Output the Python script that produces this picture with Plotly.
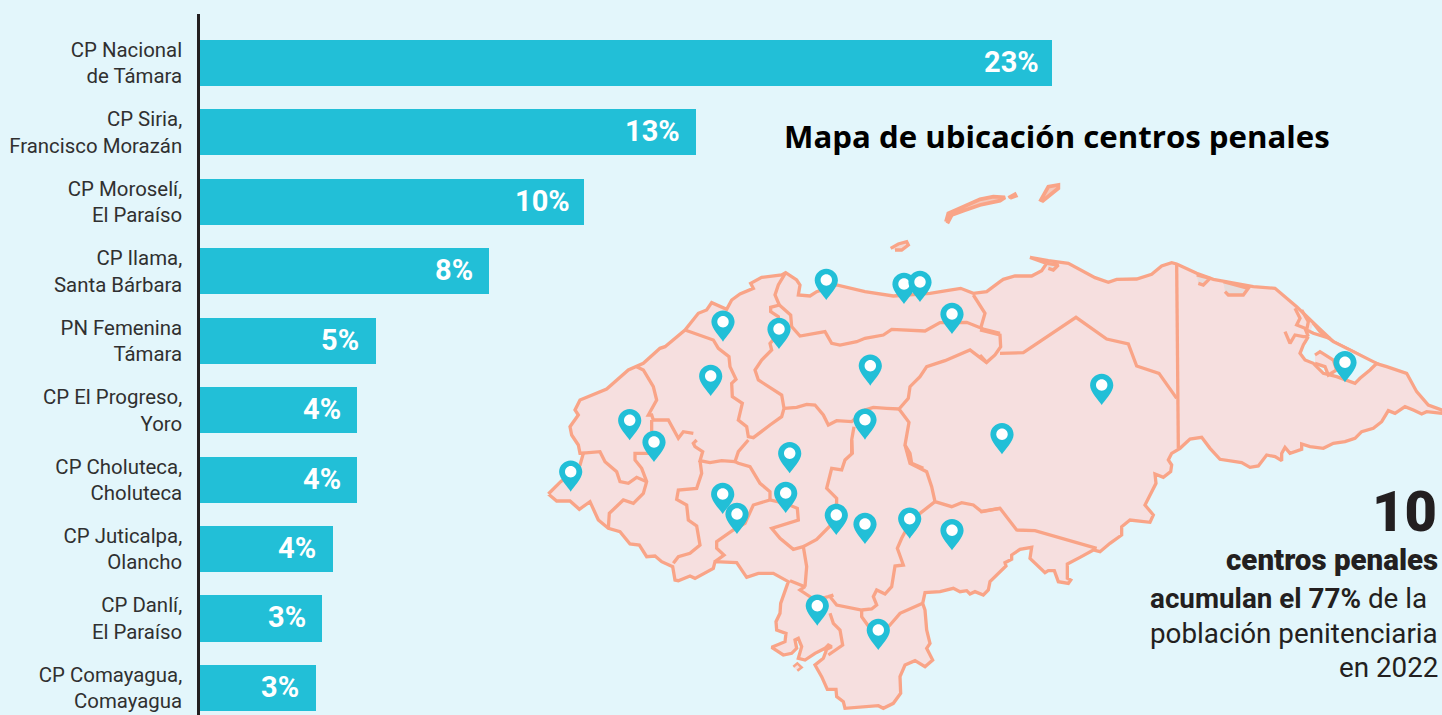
import plotly.graph_objects as go

BG = "#e3f6fb"; BAR = "#22bfd7"; LAND = "#f6dfdf"; EDGE = "#f9a487"; INK = "#231f20"

centers = ["CP Nacional<br>de Támara", "CP Siria,<br>Francisco Morazán", "CP Moroselí,<br>El Paraíso",
           "CP Ilama,<br>Santa Bárbara", "PN Femenina<br>Támara", "CP El Progreso,<br>Yoro",
           "CP Choluteca,<br>Choluteca", "CP Juticalpa,<br>Olancho", "CP Danlí,<br>El Paraíso",
           "CP Comayagua,<br>Comayagua"]
shares = [23.0, 13.4, 10.37, 7.8, 4.75, 4.24, 4.24, 3.6, 3.3, 3.13]
share_labels = ["23%", "13%", "10%", "8%", "5%", "4%", "4%", "4%", "3%", "3%"]
label_inset = [11, 14, 12, 14, 15, 14, 14, 15, 14, 15]

# Map, each list in its own crop's reading frame
C1 = (540, 170); C2 = (540, 440); C3 = (980, 240); C6 = (960, 500); C7 = (930, 170); C8 = (1270, 295)

coast_a = [(25,162),(62,125),(120,75),(130,40)]  # C2
coast_b = [(120,850),(115,825),(95,795),(90,770),(115,735),(105,720),(120,690),(200,657),(265,600),(310,580),(360,535),(375,530),(435,480),(475,430),(500,420),(515,398),(560,418),(575,390),(600,372),(640,355),(632,340),(665,322),(725,315),(737,308),(770,330),(780,345),(775,375),(810,378),(830,365),(890,345),(975,365),(1060,378),(1100,375),(1170,370),(1220,362),(1262,355),(1300,370),(1340,365),(1380,335)]  # C1
coast_c = [(70,118),(105,108),(155,108),(185,92),(200,70),(150,52),(205,62),(265,70),(300,90),(345,113),(385,127),(410,118),(470,117),(515,103),(545,78),(575,68),(590,72),(650,100),(700,118),(820,140),(885,145),(950,200),(1010,258),(1060,305),(1120,335),(1180,368),(1220,380),(1280,400),(1310,455),(1345,495),(1386,510),(1400,510),(1400,520),(1386,520),(1340,515),(1325,522),(1300,510),(1275,500),(1245,520),(1225,512),(1205,545),(1180,565),(1145,575),(1125,595),(1095,605),(1060,610),(1030,625),(990,620),(965,612),(965,628),(930,640),(915,622),(905,640),(905,662),(885,650),(860,645),(835,678),(810,682),(785,668),(720,658),(690,625),(665,592),(630,597),(600,625),(575,640),(565,660),(575,675),(572,695),(550,712),(525,702),(528,730),(495,795),(520,825),(510,847),(450,840),(425,860),(425,885),(390,910),(360,935)]  # C3
coast_d = [(400,150),(360,172),(335,187),(322,192),(322,235),(332,240),(325,250),(295,245),(283,212),(265,212),(255,218),(210,175),(215,142),(180,148),(155,165),(155,178),(135,188),(138,198),(90,245),(85,270),(70,285),(45,275),(30,282),(20,272),(0,275)]  # C6
coast_e = [(1240,445),(1200,455),(1155,458),(1148,490),(1155,510),(1160,570),(1170,610),(1160,625),(1178,660),(1155,680),(1125,662),(1095,675),(1080,710),(1082,760),(1060,790),(1030,805),(1015,797),(915,805),(910,785),(890,770),(888,748),(862,748),(845,710),(825,675),(850,655),(860,628),(875,620),(865,615),(855,625),(825,640),(795,660),(775,655),(785,620),(775,595),(765,600),(770,625),(755,640),(730,645),(695,622),(735,605),(738,580),(710,570),(708,545),(720,520),(722,490),(745,425),(715,408),(700,400),(655,400),(620,412),(590,368),(525,365),(520,385),(465,415),(450,408),(415,422),(405,420),(398,380),(365,365),(345,348),(320,350),(298,315),(270,312),(240,275),(205,265),(175,240),(150,185),(118,208),(90,183),(50,183),(25,162)]  # C2

borders = [
 (C1, [(737,308),(715,345),(705,375),(718,405),(692,412),(692,425),(715,440),(717,490),(690,520),(695,540),(665,570),(645,600),(655,630),(685,650),(725,675),(732,715),(725,740),(690,765),(640,803),(625,800),(620,770),(595,750),(607,700),(577,680),(575,640),(588,628),(570,590),(567,560),(535,535),(520,510),(435,480)]),
 (C1, [(718,405),(752,435),(755,470),(780,498),(825,490),(855,485),(875,520),(900,525),(950,515),(975,505),(1030,495),(1055,478),(1155,483),(1200,458),(1280,457),(1330,477),(1380,490)]),
 (C1, [(1300,375),(1335,430),(1322,475)]),
 (C3, [(0,270),(60,285),(62,320),(45,345),(20,367),(0,345)]),
 (C1, [(1340,578),(1290,540),(1215,572),(1160,590),(1140,620),(1110,650),(1105,685),(1077,717),(1040,715),(1000,712),(975,720),(935,755),(890,752),(865,765),(850,735),(825,705),(800,703),(770,712),(732,715)]),
 (C1, [(1077,717),(1107,757),(1095,825),(1110,850),(1115,880),(1150,895)]),
 (C2, [(1095,15),(1110,70),(1160,95),(1175,140),(1185,185),(1235,200),(1265,188),(1300,195),(1325,215),(1380,205)]),
 (C3, [(0,815),(60,805),(110,870),(165,872),(350,925)]),
 (C3, [(60,340),(130,338),(288,232),(380,297),(445,312),(470,378),(537,400),(590,475)]),
 (C3, [(590,72),(595,625)]),
 (C2, [(1185,185),(1140,220),(1109,250),(1085,295),(1072,325),(1090,375),(1065,378),(1055,440),(1035,462),(1010,450),(1000,470),(1010,495),(995,507),(965,510),(890,495),(870,470),(880,465),(865,470),(825,480),(780,450),(795,440),(750,422)]),
 (C2, [(795,440),(800,380),(790,320),(760,328),(720,295),(695,265),(775,240),(772,205),(735,190),(690,180),(640,195),(615,250),(580,270),(530,305),(530,325),(552,345),(525,365)]),
 (C2, [(965,510),(965,530),(990,565),(1015,590),(1050,555),(1080,520),(1148,490)]),
 (C2, [(870,520),(880,550),(900,570),(908,615),(865,645)]),
 (C2, [(790,320),(830,298),(870,258),(889,230),(890,175),(860,145),(875,85),(905,90),(915,60),(937,40),(935,0)]),
 (C1, [(935,850),(935,810),(942,770)]),
 (C2, [(690,180),(690,155),(660,130),(630,80),(595,70),(585,65),(595,35),(625,0)]),
 (C2, [(585,65),(545,62),(510,68),(480,62),(488,35),(465,20),(460,10),(470,0)]),
 (C1, [(460,790),(430,785),(415,805),(385,750),(340,750),(335,735),(325,735),(350,690),(340,650),(310,600),(290,590)]),
 (C2, [(480,62),(485,100),(470,145),(415,150),(410,178),(440,195),(445,240),(470,258),(480,315),(450,340),(415,350),(400,370)]),
 (C2, [(340,40),(285,40),(285,60),(305,85),(320,125),(310,160),(280,190),(250,180),(208,220),(205,265)]),
 (C2, [(120,40),(180,35),(195,65),(230,95),(240,125),(265,130),(290,112),(320,125)]),
 (C1, [(335,750),(335,785)]),
]

lagoon = [(115,125),(100,150),(90,175),(105,195),(130,205),(160,235),(200,245),(240,258),(255,265),(270,250),(300,225),(320,205),(290,190),(250,170),(190,140),(150,110),(130,85)]  # C8
lagoon_isle = [(135,180),(150,170),(190,195),(200,225),(175,240),(165,215),(135,205)]  # C8
lagoon_channels = [[(75,40),(90,70),(80,90),(105,100),(115,125)],
                   [(45,110),(60,145),(75,120),(100,125),(115,125)],
                   [(95,45),(115,80),(110,105),(130,115),(180,130)]]  # C8
ponds = [[(200,70),(235,75),(220,90),(205,85)], [(650,105),(690,115),(670,135),(655,130)], [(730,125),(805,145),(790,165),(745,165),(735,155)]]  # C3
isle_roatan = [(48,155),(55,130),(100,110),(150,88),(190,80),(225,82),(210,92),(150,105),(100,122),(65,135),(52,160)]  # C7
isle_guanaja = [(330,95),(355,50),(385,45),(385,55),(360,75),(335,95)]  # C7
isle_small = [(235,83),(255,72),(258,78),(240,85)]  # C7
isle_utila = [(1052,235),(1075,222),(1100,215),(1105,225),(1085,240),(1065,240)]  # C1
isle_gulf = [(760,680),(772,670),(785,682),(772,692)]  # C2

pin_x = [723, 779, 826.3, 904, 920, 952, 870.3, 710.7, 865, 629.7, 654, 789.7, 570.7, 722.7, 737, 785.7, 836.3, 865, 909.7, 952, 817.3, 878.3, 1101.7, 1002, 1345]
pin_y = [341.7, 349, 300, 304, 302, 334, 385.7, 396, 439.7, 440.3, 462, 473.3, 491.7, 514, 534, 513, 535, 544, 538.7, 550.3, 625.7, 650, 405, 454.3, 382.3]


def frame(origin, pts):
    return [origin[0] + p[0] / 3 for p in pts], [origin[1] + p[1] / 3 for p in pts]


def join(*parts):
    xs, ys = [], []
    for o, p in parts:
        a, b = frame(o, p)
        xs += a; ys += b
    return xs, ys


fig = go.Figure()
fig.add_bar(x=shares, y=centers, orientation="h", width=0.663, marker=dict(color=BAR, line_width=0),
            xaxis="x", yaxis="y", hoverinfo="skip", showlegend=False)


def poly(xs, ys, fill=LAND, width=3.3, closed=True, color=EDGE):
    fig.add_scatter(x=xs, y=ys, mode="lines", xaxis="x2", yaxis="y2", showlegend=False, hoverinfo="skip",
                    line=dict(color=color, width=width),
                    fill="toself" if closed else "none", fillcolor=fill)


mx, my = join((C2, coast_a), (C1, coast_b), (C3, coast_c), (C6, coast_d), (C2, coast_e))
poly(mx, my)
for o, seg in borders:
    poly(*frame(o, seg), closed=False)
poly(*frame(C8, lagoon), fill=BG)
poly(*frame(C8, lagoon_isle))
for ch in lagoon_channels:
    poly(*frame(C8, ch), closed=False)
for p in ponds:
    poly(*frame(C3, p), fill="#e6dcdc")
poly(*frame(C7, isle_roatan), fill="#f3c8bb", width=3.8)
poly(*frame(C7, isle_guanaja), fill="#f3c8bb", width=3.8)
poly(*frame(C7, isle_small), fill=EDGE)
poly(*frame(C1, isle_utila), fill="#f3d8d3")
poly(*frame(C2, isle_gulf), fill=LAND, width=2.5)

DROP = ("M0,0 C-2.5,4.2 -11.6,13 -11.6,19.6 C-11.6,26 -6.4,31.2 0,31.2 "
        "C6.4,31.2 11.6,26 11.6,19.6 C11.6,13 2.5,4.2 0,0 Z")
DOT = ("M-5.7,20 C-5.7,23.15 -3.15,25.7 0,25.7 C3.15,25.7 5.7,23.15 5.7,20 "
       "C5.7,16.85 3.15,14.3 0,14.3 C-3.15,14.3 -5.7,16.85 -5.7,20 Z")
shapes = []
for px, py in zip(pin_x, pin_y):
    for path, col in ((DROP, BAR), (DOT, "#ffffff")):
        shapes.append(dict(type="path", xref="x2", yref="y2", xsizemode="pixel", ysizemode="pixel",
                           xanchor=px, yanchor=py, path=path, fillcolor=col, line_width=0, layer="above"))

ann = []
for v, lab, c, inset in zip(shares, share_labels, centers, label_inset):
    ann.append(dict(x=v, y=c, xref="x", yref="y", text=lab, showarrow=False, xanchor="right", xshift=-inset, yshift=1,
                    font=dict(family="Roboto", size=29, color="#ffffff", weight="bold")))


def note(x, y, text, size, anchor="right", family="Roboto", weight=None, color=INK):
    f = dict(family=family, size=size, color=color)
    if weight:
        f["weight"] = weight
    ann.append(dict(x=x, y=y, xref="x2", yref="y2", text=text, showarrow=False, xanchor=anchor, yanchor="middle", font=f))


note(1057, 136, "Mapa de ubicación centros penales", 31.2, "center", "Open Sans", "bold", "#000000")
note(1439, 512, "10", 56, weight=900)
note(1440, 560, "centros penales", 29.5, weight=900)
note(1429, 598, "<b>acumulan el 77%</b> de la", 27.8)
note(1440, 633, "población penitenciaria", 27.8)
note(1440, 667, "en 2022", 27.8)

fig.update_layout(
    width=1442, height=715, margin=dict(l=0, r=0, t=0, b=0), autosize=False,
    paper_bgcolor=BG, plot_bgcolor="rgba(0,0,0,0)", showlegend=False, shapes=shapes, annotations=ann,
    bargap=0,
    xaxis=dict(domain=[200 / 1442, 1], range=[0, 1242 / 37.04], visible=False, fixedrange=True),
    yaxis=dict(domain=[0, 701 / 715], range=[9.39, -0.706], type="category", categoryorder="array",
               categoryarray=centers, showgrid=False, zeroline=False, showline=True, linecolor=INK, linewidth=2.5,
               ticks="", ticklabelstandoff=11, tickfont=dict(family="Roboto", size=20.4, color="#303030"), fixedrange=True),
    xaxis2=dict(domain=[0, 1], range=[0, 1442], visible=False, anchor="y2", fixedrange=True),
    yaxis2=dict(domain=[0, 1], range=[715, 0], visible=False, anchor="x2", fixedrange=True),
)
fig.write_html("out.html", config=dict(displayModeBar=False),
               post_script="document.body.style.margin='0';document.documentElement.style.background='%s';" % BG)
